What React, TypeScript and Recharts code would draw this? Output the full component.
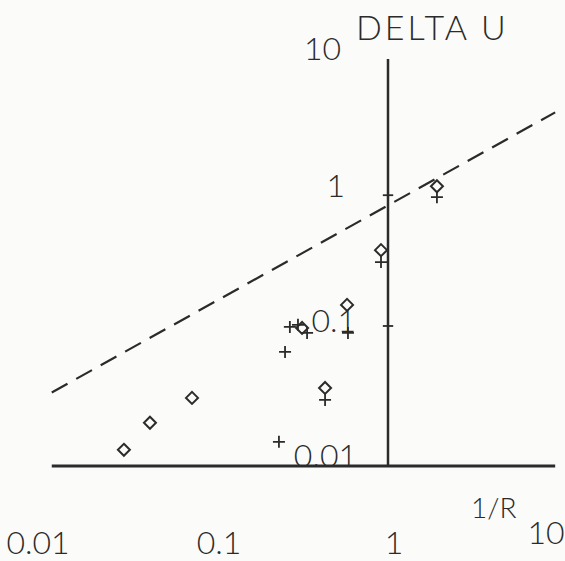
import { ScatterChart, Scatter, XAxis, YAxis, ReferenceLine } from 'recharts'

// 1/R (x) and DELTA U (y), both on log scales
const diamondX = [0.0322, 0.0452, 0.0781, 0.327, 0.441, 0.587, 0.913, 1.89]
const diamondY = [0.0113, 0.0182, 0.0282, 0.0966, 0.0336, 0.145, 0.38, 1.17]

const plusX = [0.242, 0.262, 0.279, 0.31, 0.349, 0.441, 0.594, 0.913, 1.89]
const plusY = [0.013, 0.0633, 0.0983, 0.102, 0.0885, 0.0272, 0.0885, 0.308, 0.965]

const fitX = [0.0126, 8.8]
const fitY = [0.031, 4.3]

const xTicks = [0.01, 0.1, 1, 10]
const xTickLabels = ['0.01', '0.1', '1', '10']
const yTicks = [0.01, 0.1, 1, 10]
const yTickLabels = ['0.01', '0.1', '1', '10']

const diamonds = diamondX.map((x, i) => ({ x, y: diamondY[i] }))
const pluses = plusX.map((x, i) => ({ x, y: plusY[i] }))

const INK = '#2b2b2b'
const FONT = 'Lato, "DejaVu Sans", sans-serif'
const WEIGHT = 300

// label nudges, the plotter put them a bit off the tick positions
const xLabelShift: Record<string, [number, number]> = {
  '0.01': [4, 88],
  '0.1': [8, 88],
  '1': [6, 88],
  '10': [-19, 78],
}
// [right edge relative to the y axis line, baseline shift]
const yLabelShift: Record<string, [number, number]> = {
  '10': [-47, -4],
  '1': [-43, 2],
  '0.1': [-32, 6],
  '0.01': [-31, 10],
}
const Y_AXIS_PX = 388

const DiamondShape = (props: any) => {
  const { cx, cy } = props
  const r = 6
  return (
    <path
      d={`M${cx},${cy - r} L${cx + r},${cy} L${cx},${cy + r} L${cx - r},${cy} Z`}
      fill="none"
      stroke={INK}
      strokeWidth={2}
    />
  )
}

const PlusShape = (props: any) => {
  const { cx, cy } = props
  const r = 6
  return (
    <path
      d={`M${cx - r},${cy} L${cx + r},${cy} M${cx},${cy - r} L${cx},${cy + r}`}
      stroke={INK}
      strokeWidth={1.8}
    />
  )
}

const XTick = (props: any) => {
  const { x, y, payload } = props
  const label = xTickLabels[xTicks.indexOf(payload.value)] ?? String(payload.value)
  const [dx, dy] = xLabelShift[label] ?? [0, 88]
  return (
    <text x={x + dx} y={y + dy} textAnchor="middle" fontSize={32} fontFamily={FONT} fontWeight={WEIGHT} fill={INK}>
      {label}
    </text>
  )
}

const YTick = (props: any) => {
  const { y, payload } = props
  const label = yTickLabels[yTicks.indexOf(payload.value)] ?? String(payload.value)
  const [dx, dy] = yLabelShift[label] ?? [-40, 0]
  return (
    <text x={Y_AXIS_PX + dx} y={y + dy} textAnchor="end" fontSize={32} fontFamily={FONT} fontWeight={WEIGHT} fill={INK}>
      {label}
    </text>
  )
}

export default function App() {
  return (
    <div style={{ position: 'absolute', left: 0, top: 0, width: 565, height: 561, background: '#fbfbfa', overflow: 'hidden' }}>
      <ScatterChart width={565} height={561} margin={{ top: 59, right: 0, bottom: 0, left: 33 }}>
        <XAxis
          dataKey="x"
          type="number"
          scale="log"
          domain={[0.01, 10]}
          allowDataOverflow
          ticks={xTicks}
          interval={0}
          height={95}
          axisLine={false}
          tickLine={false}
          tickSize={0}
          tickMargin={0}
          tick={<XTick />}
        />
        <YAxis
          dataKey="y"
          type="number"
          scale="log"
          domain={[0.0085, 11]}
          allowDataOverflow
          ticks={yTicks}
          interval={0}
          width={1}
          axisLine={false}
          tickLine={false}
          tickSize={0}
          tickMargin={0}
          tick={<YTick />}
        />
        {/* x axis line */}
        <ReferenceLine
          segment={[{ x: 0.0126, y: 0.0085 }, { x: 8.8, y: 0.0085 }]}
          stroke={INK}
          strokeWidth={3}
          ifOverflow="visible"
        />
        {/* y axis drawn at 1/R = 1 */}
        <ReferenceLine
          segment={[{ x: 1, y: 0.0085 }, { x: 1, y: 11 }]}
          stroke={INK}
          strokeWidth={2.5}
          ifOverflow="visible"
        />
        <ReferenceLine segment={[{ x: 0.935, y: 1 }, { x: 1.07, y: 1 }]} stroke={INK} strokeWidth={1.8} />
        <ReferenceLine segment={[{ x: 0.935, y: 0.1 }, { x: 1.07, y: 0.1 }]} stroke={INK} strokeWidth={1.8} />
        {/* fitted line */}
        <ReferenceLine
          segment={[{ x: fitX[0], y: fitY[0] }, { x: fitX[1], y: fitY[1] }]}
          stroke={INK}
          strokeWidth={2.2}
          strokeDasharray="18 10"
          ifOverflow="visible"
        />
        <Scatter data={diamonds} shape={<DiamondShape />} isAnimationActive={false} />
        <Scatter data={pluses} shape={<PlusShape />} isAnimationActive={false} />
      </ScatterChart>
      <svg width={565} height={561} style={{ position: 'absolute', left: 0, top: 0, pointerEvents: 'none' }}>
        <text x={356} y={40} fontSize={34} fontFamily={FONT} fontWeight={WEIGHT} letterSpacing={3} fill={INK}>
          DELTA U
        </text>
        <text x={471} y={518} fontSize={28} fontFamily={FONT} fontWeight={WEIGHT} fill={INK}>
          1/R
        </text>
      </svg>
    </div>
  )
}
